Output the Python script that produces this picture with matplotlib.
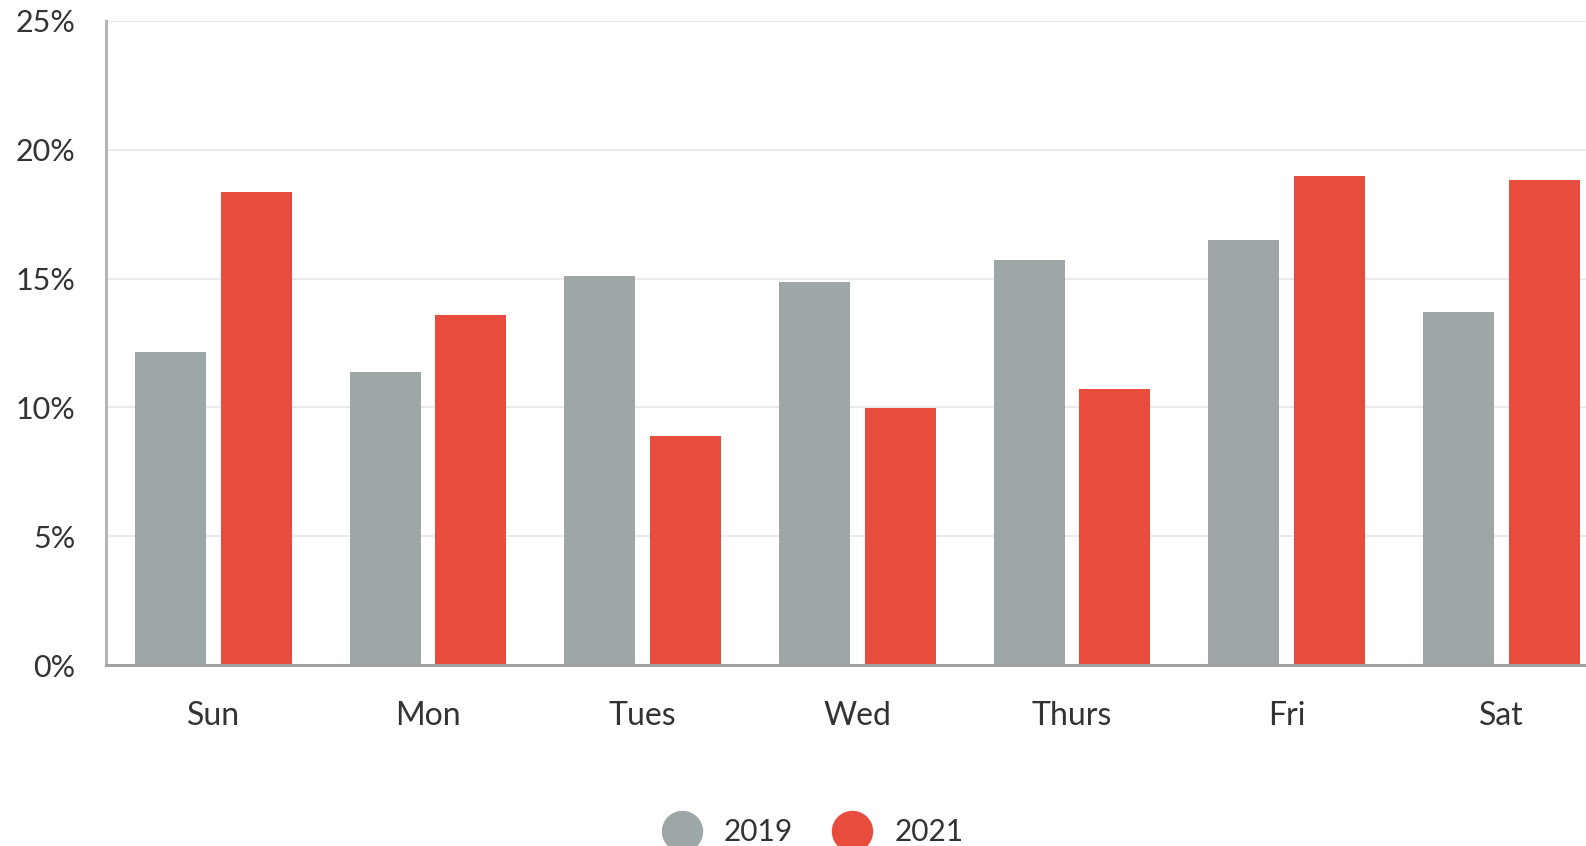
import matplotlib.pyplot as plt
from matplotlib.lines import Line2D
import numpy as np

# Data
days = ['Sun', 'Mon', 'Tues', 'Wed', 'Thurs', 'Fri', 'Sat']
share_2019 = [12.15, 11.36, 15.09, 14.86, 15.72, 16.51, 13.70]
share_2021 = [18.36, 13.60, 8.88, 9.98, 10.73, 18.98, 18.83]
y_ticks = [0, 5, 10, 15, 20, 25]

GRAY = '#9ea6a7'
RED = '#e74c3c'
TEXT = '#333333'

plt.rcParams['font.family'] = ['Lato', 'DejaVu Sans']

fig = plt.figure(figsize=(15.86, 8.46), dpi=100)
# axes runs past the right edge of the figure, like the clipped original
ax = fig.add_axes([106 / 1586, 181 / 846, 1502.7 / 1586, 644 / 846])

x = np.arange(len(days))
ax.bar(x - 0.2, share_2019, width=0.331, color=GRAY, label='2019')
ax.bar(x + 0.2, share_2021, width=0.331, color=RED, label='2021')

ax.set_xlim(-0.5, len(days) - 0.5)
ax.set_ylim(0, 25)
ax.set_yticks(y_ticks)
ax.set_yticklabels([f'{t}%' for t in y_ticks])
ax.set_xticks(x)
ax.set_xticklabels(days)

ax.set_axisbelow(True)
ax.grid(axis='y', color='#e6e6e6', linewidth=1.2)
ax.tick_params(axis='x', length=0, pad=26, labelsize=23, labelcolor=TEXT)
ax.tick_params(axis='y', length=0, pad=22, labelsize=22, labelcolor=TEXT)

for side in ['top', 'right']:
    ax.spines[side].set_visible(False)
ax.spines['left'].set_color('#b5b5b5')
ax.spines['left'].set_linewidth(2.2)
ax.spines['bottom'].set_color('#a3a3a3')
ax.spines['bottom'].set_linewidth(2.2)

handles = [
    Line2D([], [], marker='o', linestyle='none', markersize=28.8, color=GRAY, label='2019'),
    Line2D([], [], marker='o', linestyle='none', markersize=28.8, color=RED, label='2021'),
]
fig.legend(handles=handles, loc='center', bbox_to_anchor=(0.512, 0.016), ncol=2,
           frameon=False, fontsize=21.5, labelcolor=TEXT, handlelength=1.4,
           handletextpad=0.7, columnspacing=1.3)

fig.savefig('out.png', dpi=100)
